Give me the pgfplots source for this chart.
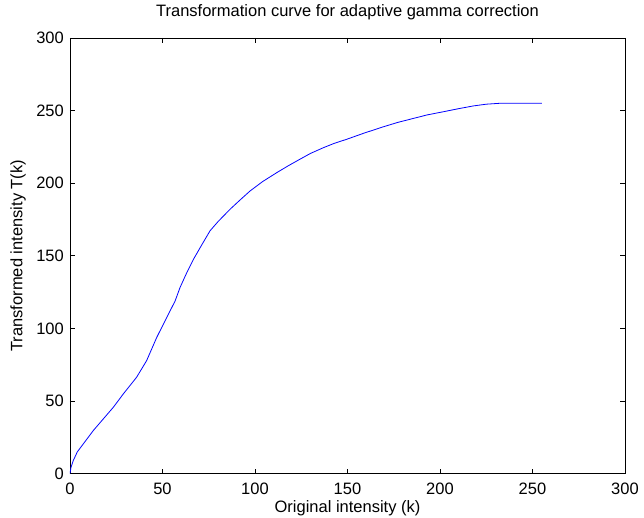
\documentclass[border=0pt]{standalone}
\usepackage{pgfplots}
\pgfplotsset{compat=1.18}
\usepackage{fontspec}
\setmainfont{Liberation Sans}

\begin{document}
\begin{tikzpicture}
\begin{axis}[
    scale only axis,
    width=555pt, height=435.5pt,
    xmin=0, xmax=300, ymin=0, ymax=300,
    xtick={0,50,...,300}, ytick={0,50,...,300},
    tick align=inside,
    major tick length=5pt,
    tick style={black, line width=0.6pt},
    axis line style={black, line width=0.8pt},
    ticklabel style={font=\fontsize{16.5}{18}\selectfont, inner sep=0pt},
    xticklabel style={anchor=center, yshift=-15.5pt},
    yticklabel style={anchor=east, xshift=-6pt},
    /pgf/number format/assume math mode=true,
    title={Transformation curve for adaptive gamma correction},
    every axis title/.style={font=\fontsize{16.5}{18}\selectfont, at={(0.5,1)},
        anchor=center, yshift=26pt, inner sep=0pt},
    xlabel={Original intensity (k)},
    ylabel={Transformed intensity T(k)},
    every axis x label/.style={font=\fontsize{16.5}{18}\selectfont, inner sep=0pt,
        at={(0.5,0)}, anchor=center, yshift=-35pt},
    every axis y label/.style={font=\fontsize{16.5}{18}\selectfont, inner sep=0pt,
        at={(0,0.5)}, anchor=center, rotate=90, yshift=52pt},
]
\addplot[blue, line width=0.8pt] coordinates {
(0,0) (0.5,4) (1.8,9) (4,15) (7.2,20.4) (12.6,29.6) (18,37.6) (23.4,45.6)
(28.8,54.8) (36,66.3) (41.4,77.7) (46.9,93.8) (52.3,107.5) (56.8,118.8)
(59.5,128.2) (63,138) (66.7,147.5) (71,157) (75.7,167.2) (80,173.5)
(86.5,182) (92,188.5) (97.3,194.6) (104,201) (111.7,207.2) (118,212)
(124.3,216.5) (130,220.5) (136.9,224.4) (143,227.5) (149.5,230.2)
(159,234.5) (169.3,238.8) (177,241.8) (185.6,244.6) (193,247)
(201.8,249.2) (210,251.3) (218,253.2) (225,254.4) (232,255) (255,255)
};
\end{axis}
\pgfresetboundingbox
\path ([shift={(-70pt,-43.5pt)}]current axis.south west) rectangle ([shift={(19pt,38pt)}]current axis.north east);
\end{tikzpicture}
\end{document}
